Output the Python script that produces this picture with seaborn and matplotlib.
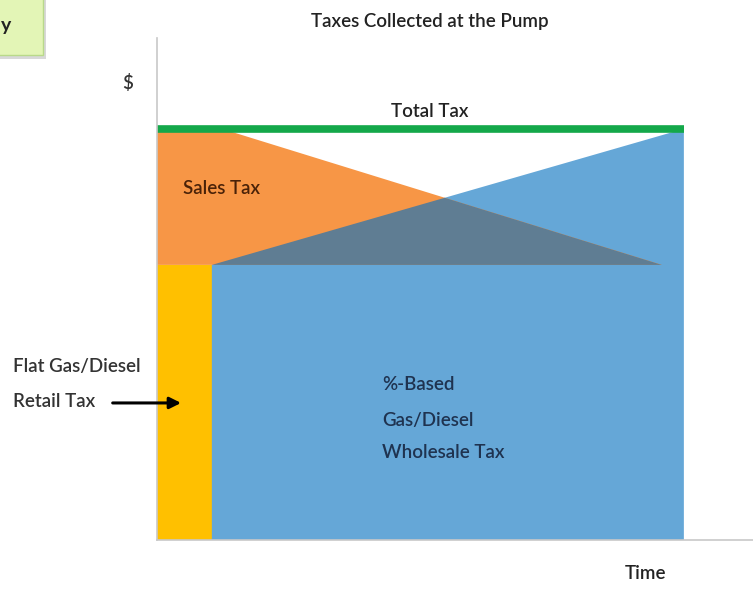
import numpy as np
import pandas as pd
import matplotlib
matplotlib.use("Agg")
import matplotlib.pyplot as plt
import seaborn as sns
from matplotlib.patches import FancyBboxPatch, Rectangle

# ---- data (arbitrary units: time 0..10, dollars 0..10) ----
flat_end = 0.92          # end of flat retail tax band
wholesale_end = 8.84     # end of chart period
base_level = 5.48        # flat + %-based wholesale base
total_level = 8.19       # total tax
sales_x = [0.0, 1.09, 8.47]
sales_y = [total_level, total_level, base_level]
wholesale_x = [flat_end, wholesale_end]
wholesale_y = [base_level, total_level]

sns.set_theme(style="white")
plt.rcParams['font.family'] = ['Lato', 'DejaVu Sans']

fig = plt.figure(figsize=(7.53, 5.96), dpi=100)
ax = fig.add_axes([157/753, 56/596, 596/753, 502/596])
ax.set_xlim(0, 10)
ax.set_ylim(0, 10)

c_orange = "#f79646"
c_blue = "#65a7d7"
c_yellow = "#ffc000"
c_green = "#14a84a"
c_dark = "#5f7d93"

# flat retail tax
ax.fill([0, flat_end, flat_end, 0], [0, 0, base_level, base_level], color=c_yellow, lw=0)
# %-based wholesale tax (base + growing wedge)
ax.fill([flat_end, wholesale_end, wholesale_end, flat_end],
        [0, 0, wholesale_y[1], wholesale_y[0]], color=c_blue, lw=0)
# sales tax wedge
ax.fill([0] + sales_x + [0], [base_level] + sales_y + [base_level], color=c_orange, lw=0)
# overlap triangle
s_slope = (sales_y[2] - sales_y[1]) / (sales_x[2] - sales_x[1])
w_slope = (wholesale_y[1] - wholesale_y[0]) / (wholesale_x[1] - wholesale_x[0])
xi = (wholesale_y[0] - w_slope * wholesale_x[0] - sales_y[1] + s_slope * sales_x[1]) / (s_slope - w_slope)
yi = wholesale_y[0] + w_slope * (xi - wholesale_x[0])
ax.fill([wholesale_x[0], xi, sales_x[2]], [base_level, yi, base_level], color=c_dark, lw=0)

# total tax line
line_df = pd.DataFrame({"t": [0, wholesale_end], "v": [total_level, total_level]})
sns.lineplot(data=line_df, x="t", y="v", ax=ax, color=c_green, lw=5.5, solid_capstyle="butt")

for s in ["top", "right"]:
    ax.spines[s].set_visible(False)
for s in ["left", "bottom"]:
    ax.spines[s].set_color("#c8c8c8")
    ax.spines[s].set_linewidth(1.2)
ax.set_xticks([])
ax.set_yticks([])
ax.set_xlabel("")
ax.set_ylabel("")

fs = 13.5
fw = "semibold"
ax.text(4.58, 8.53, "Total Tax", ha="center", va="center", fontsize=fs, color="#222222", fontweight=fw)
ax.text(0.44, 7.01, "Sales Tax", ha="left", va="center", fontsize=fs, color="#4a2208", fontweight=fw)
ax.text(-0.49, 9.10, "$", ha="center", va="center", fontsize=fs, color="#333333", clip_on=False, fontweight=fw)
ax.text(-2.42, 3.45, "Flat Gas/Diesel", ha="left", va="center", fontsize=fs, color="#333333", clip_on=False, fontweight=fw)
ax.text(-2.42, 2.75, "Retail Tax", ha="left", va="center", fontsize=fs, color="#333333", clip_on=False, fontweight=fw)
ax.annotate("", xy=(0.45, 2.73), xytext=(-0.79, 2.73),
            arrowprops=dict(arrowstyle="-|>", color="black", lw=2.2, mutation_scale=17),
            annotation_clip=False)
for txt, yy in [("%-Based", 3.09), ("Gas/Diesel", 2.39), ("Wholesale Tax", 1.75)]:
    ax.text(3.78, yy, txt, ha="left", va="center", fontsize=fs, color="#1f3350", fontweight=fw)
ax.text(8.19, -0.66, "Time", ha="center", va="center", fontsize=fs, color="#222222", clip_on=False, fontweight=fw)

fig.text(430/753, 1 - 22/596, "Taxes Collected at the Pump", ha="center", va="center",
         fontsize=fs, color="#222222", fontweight=fw)

# partial green label box at top-left corner
box = FancyBboxPatch((-10/753, 1 - 55/596), 53/753, 70/596, boxstyle="square,pad=0",
                     transform=fig.transFigure, facecolor="#e3f5b6", edgecolor="#b9d98a",
                     lw=1, zorder=5)
fig.patches.append(Rectangle((-8/753, 1 - 59/596), 54/753, 70/596, transform=fig.transFigure,
                             facecolor="#d8d8d8", edgecolor="none", zorder=4))
fig.patches.append(box)
fig.text(0.5/753, 1 - 26/596, "y", ha="left", va="center", fontsize=14, color="#222222",
         zorder=6, fontweight="bold")

fig.savefig("out.png", dpi=100)
